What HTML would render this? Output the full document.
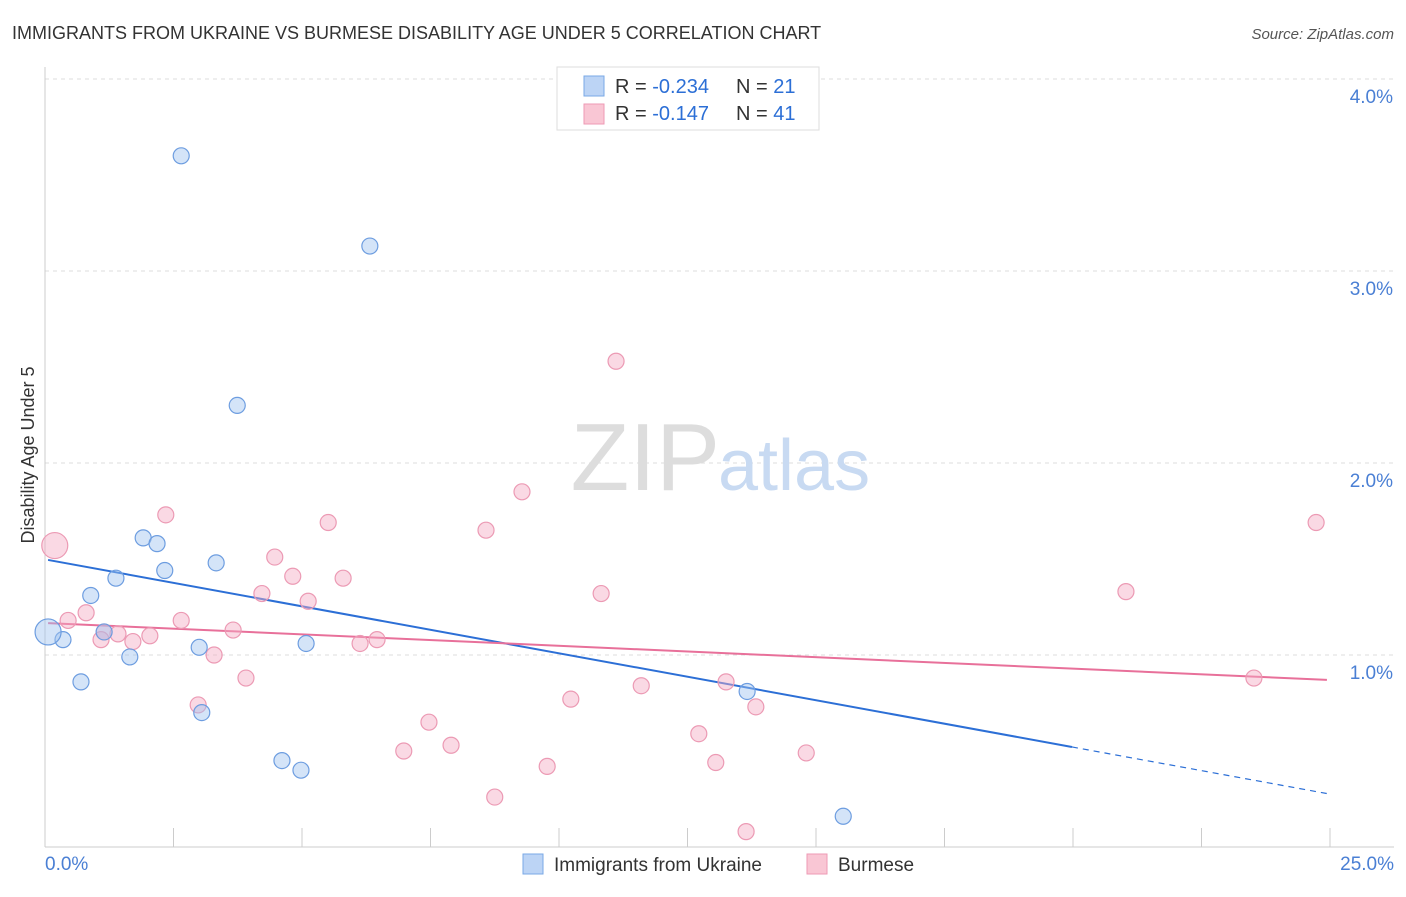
<!DOCTYPE html>
<html><head><meta charset="utf-8"><style>
body{margin:0;background:#fff;font-family:"Liberation Sans",sans-serif;}
svg text{font-family:"Liberation Sans",sans-serif;}
</style></head><body>
<svg id="chart" width="1406" height="892" xmlns="http://www.w3.org/2000/svg">
<text x="12" y="39" font-size="18" fill="#333">IMMIGRANTS FROM UKRAINE VS BURMESE DISABILITY AGE UNDER 5 CORRELATION CHART</text>
<text x="1394" y="39" font-size="15" fill="#555" font-style="italic" text-anchor="end">Source: ZipAtlas.com</text>
<g id="grid"></g>
<g id="axes"></g>
<text x="720" y="490" font-size="96" fill="#ddd" text-anchor="end" font-family="Liberation Serif">ZIP</text>
<text x="718" y="490" font-size="72" fill="#c8daf2">atlas</text>
<text transform="translate(34,455) rotate(-90)" font-size="18" fill="#333" text-anchor="middle">Disability Age Under 5</text>
<g id="lines"></g>
<g id="points"></g>
<g>
<rect x="557" y="67" width="262" height="63" fill="#fff" stroke="#ddd"/>
<rect x="584" y="76" width="20" height="20" fill="#bcd4f5" stroke="#7aa8e6"/>
<rect x="584" y="104" width="20" height="20" fill="#f9c6d4" stroke="#ee9ab4"/>
<text x="615" y="93" font-size="20" fill="#333">R = <tspan fill="#2c6fd6">-0.234</tspan></text>
<text x="736" y="93" font-size="20" fill="#333">N = <tspan fill="#2c6fd6">21</tspan></text>
<text x="615" y="120" font-size="20" fill="#333">R =  <tspan fill="#2c6fd6">-0.147</tspan></text>
<text x="736" y="120" font-size="20" fill="#333">N = <tspan fill="#2c6fd6">41</tspan></text>
</g>
<g>
<rect x="523" y="854" width="20" height="20" fill="#bcd4f5" stroke="#7aa8e6"/>
<text x="554" y="871" font-size="19" fill="#333">Immigrants from Ukraine</text>
<rect x="807" y="854" width="20" height="20" fill="#f9c6d4" stroke="#ee9ab4"/>
<text x="838" y="871" font-size="19" fill="#333">Burmese</text>
</g>
</svg>
<script>
const yTicks=[1,2,3,4];
const yTickLabels=["1.0%","2.0%","3.0%","4.0%"];
const xTickLabels=["0.0%","25.0%"];
const ukraineX=[2.65,6.32,3.74,1.91,2.18,2.33,3.33,1.38,0.89,1.15,0.35,0.06,1.65,3.00,5.08,0.70,3.05,4.61,4.98,13.66,15.53];
const ukraineY=[3.60,3.13,2.30,1.61,1.58,1.44,1.48,1.40,1.31,1.12,1.08,1.12,0.99,1.04,1.06,0.86,0.70,0.45,0.40,0.81,0.16];
const burmeseX=[0.19,2.35,5.51,8.58,9.28,11.11,4.47,4.82,5.80,4.22,5.12,10.82,2.65,0.45,0.80,1.15,1.42,2.04,1.71,1.09,3.66,6.46,6.13,3.29,3.91,2.98,7.47,7.90,6.98,10.23,11.60,13.25,13.83,12.72,13.05,14.81,9.77,8.75,13.64,21.03,24.73,23.52];
const burmeseY=[1.57,1.73,1.69,1.65,1.85,2.53,1.51,1.41,1.40,1.32,1.28,1.32,1.18,1.18,1.22,1.12,1.11,1.10,1.07,1.08,1.13,1.08,1.06,1.00,0.88,0.74,0.65,0.53,0.50,0.77,0.84,0.86,0.73,0.59,0.44,0.49,0.42,0.26,0.08,1.33,1.69,0.88];
const ukraineTrend=[1.498,-0.0489];
const burmeseTrend=[1.167,-0.0119];
const NS="http://www.w3.org/2000/svg";
const X=v=>45+v*51.4, Y=v=>847-v*192;
function mk(tag,attrs,parent){const e=document.createElementNS(NS,tag);for(const k in attrs)e.setAttribute(k,attrs[k]);parent.appendChild(e);return e;}
const grid=document.getElementById('grid'),axes=document.getElementById('axes');
yTicks.forEach((t,i)=>{
 const l=mk('line',{x1:45,x2:1394,y1:Y(t),y2:Y(t),stroke:'#ddd','stroke-dasharray':'4,4'},grid);
 
 
 const tx=mk('text',{x:1393,y:Y(t)+24,'font-size':19,fill:'#4a7fd4','text-anchor':'end'},axes);
 tx.textContent=yTickLabels[i];
 
 
});
const ax=mk('line',{x1:45,x2:45,y1:67,y2:847,stroke:'#ccc'},axes);


const bx=mk('line',{x1:45,x2:1394,y1:847,y2:847,stroke:'#ccc'},axes);


for(let i=0;i<=10;i++){const tk=mk('line',{x1:X(i*2.5),x2:X(i*2.5),y1:828,y2:847,stroke:'#ccc'},axes);
 
 }
const xl0=mk('text',{x:45,y:870,'font-size':19,fill:'#4a7fd4'},axes);xl0.textContent=xTickLabels[0];


const xl1=mk('text',{x:1394,y:870,'font-size':19,fill:'#4a7fd4','text-anchor':'end'},axes);xl1.textContent=xTickLabels[1];


const pts=document.getElementById('points');
burmeseX.forEach((x,i)=>{const c=mk('circle',{cx:X(x),cy:Y(burmeseY[i]),r:i==0?13:8,fill:'rgba(245,170,195,0.45)',stroke:'#ec9ab4','stroke-width':1.2},pts);
 
 });
ukraineX.forEach((x,i)=>{const c=mk('circle',{cx:X(x),cy:Y(ukraineY[i]),r:i==11?13:8,fill:'rgba(160,195,240,0.45)',stroke:'#6d9de0','stroke-width':1.2},pts);
 
 });
const lines=document.getElementById('lines');
const f=(t,x)=>t[0]+t[1]*x;
const l1=mk('line',{x1:X(0.06),y1:Y(f(ukraineTrend,0.06)),x2:X(19.98),y2:Y(f(ukraineTrend,19.98)),stroke:'#2c6fd6','stroke-width':2},lines);


const l2=mk('line',{x1:X(19.98),y1:Y(f(ukraineTrend,19.98)),x2:X(25),y2:Y(f(ukraineTrend,25)),stroke:'#2c6fd6','stroke-width':1.2,'stroke-dasharray':'6,5'},lines);


const l3=mk('line',{x1:X(0.06),y1:Y(f(burmeseTrend,0.06)),x2:X(24.94),y2:Y(f(burmeseTrend,24.94)),stroke:'#e8709a','stroke-width':2},lines);


</script>
</body></html>
